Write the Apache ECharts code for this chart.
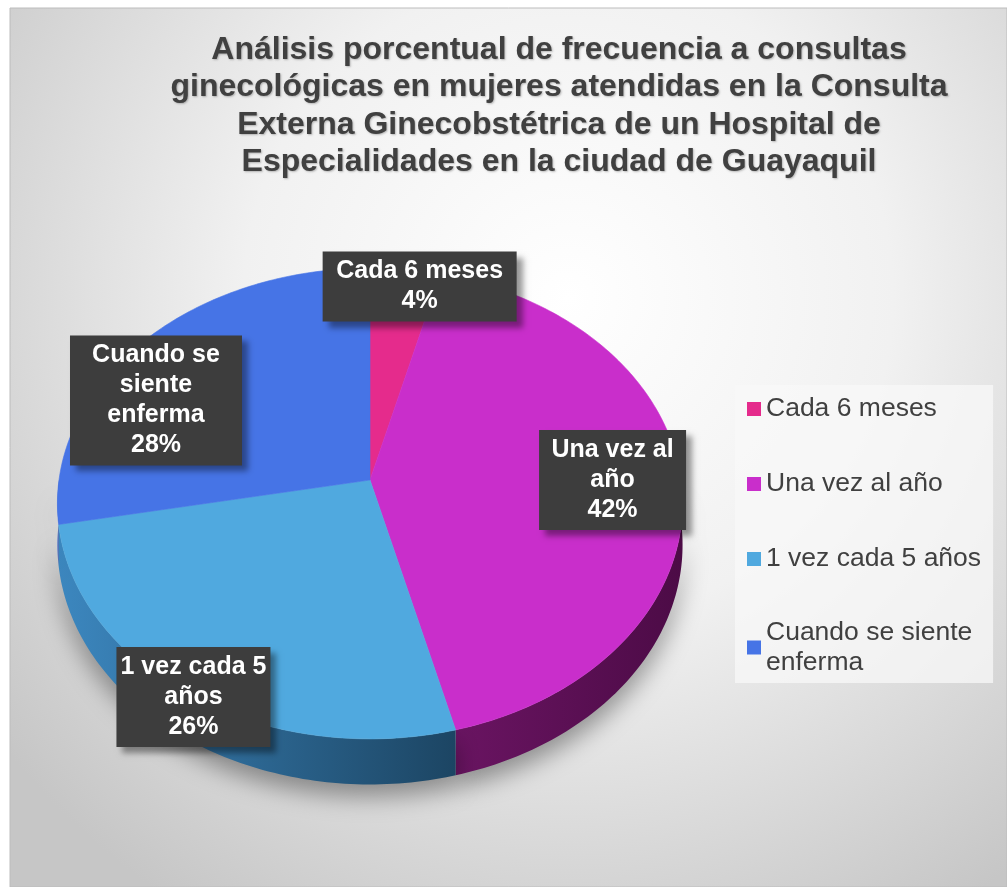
<!DOCTYPE html>
<html lang="es">
<head>
    <meta charset="UTF-8">
    <title>Frecuencia de consultas ginecológicas</title>
    <script type="text/javascript" src="https://cdn.jsdelivr.net/npm/echarts/dist/echarts.min.js"></script>
    <style>
        html, body { margin: 0; padding: 0; background: #ffffff; }
    </style>
</head>
<body>
    <div id="main" style="width: 1007px;height:887px;"></div>

    <script type="text/javascript">
        // datos
        var categories = ['Cada 6 meses', 'Una vez al año', '1 vez cada 5 años', 'Cuando se siente enferma'];
        var percentages = [4, 42, 26, 28];
        // texto de las etiquetas, cortado como en el original
        var labelNames = ['Cada 6 meses', 'Una vez al\naño', '1 vez cada 5\naños', 'Cuando se\nsiente\nenferma'];
        var titleLines = [
            'Análisis porcentual de frecuencia a consultas',
            'ginecológicas en mujeres atendidas en la Consulta',
            'Externa Ginecobstétrica de un Hospital de',
            'Especialidades en la ciudad de Guayaquil'
        ];

        // estilos
        var topColors = ['#e52b8c', '#c92ecb', '#50a9df', '#4674e6'];
        var sideColors = [['#8a1450', '#7a1046'], ['#6a1462', '#4c0b46'], ['#3c87bf', '#1c4563'], ['#3b63c4', '#2c4f9e']];
        var labelBoxWidths = [194, 147, 154, 172];
        var labelShift = [[1.4, 0.92], [0.78, 0.8], [0.97, 1.01], [0.95, 0.57]];
        var FONT = '"Liberation Sans", Arial, sans-serif';

        // geometria del pastel inclinado (elipse con algo de perspectiva)
        var CX = 370, CY = 480, RX = 311, RY = 233, PERSP = 0.1, DEPTH = 41;
        var STEP = Math.PI / 180;

        function pt(theta, down) {
            var s = 1 / (1 + PERSP * Math.cos(theta));
            return [CX + RX * Math.sin(theta) * s,
                    CY - RY * Math.cos(theta) * s + (down ? DEPTH * s : 0)];
        }

        var total = percentages.reduce(function (a, b) { return a + b; }, 0);
        var starts = [];
        var acc = 0;
        percentages.forEach(function (v) { starts.push(acc); acc += v; });

        function makeRenderer(i) {
            return function (params, api) {
                var v = api.value(0);
                var a = starts[i] / total * 2 * Math.PI;
                var b = a + v / total * 2 * Math.PI;
                var children = [];
                var t;

                // lateral visible (frente)
                var lo = Math.max(a, Math.PI / 2), hi = Math.min(b, 1.5 * Math.PI);
                if (hi > lo) {
                    var side = [];
                    for (t = lo; t < hi; t += STEP) side.push(pt(t, false));
                    side.push(pt(hi, false));
                    for (t = hi; t > lo; t -= STEP) side.push(pt(t, true));
                    side.push(pt(lo, true));
                    children.push({
                        type: 'polygon',
                        z2: 1,
                        shape: { points: side },
                        style: {
                            fill: new echarts.graphic.LinearGradient(0, 0, 1, 0, [
                                { offset: 0, color: sideColors[i][0] },
                                { offset: 1, color: sideColors[i][1] }
                            ]),
                            shadowColor: 'rgba(0,0,0,0.38)',
                            shadowBlur: 24,
                            shadowOffsetY: 12
                        }
                    });
                }

                // cara superior
                var top = [[CX, CY]];
                for (t = a; t < b; t += STEP) top.push(pt(t, false));
                top.push(pt(b, false));
                children.push({
                    type: 'polygon',
                    z2: 5,
                    shape: { points: top },
                    style: { fill: api.visual('color'), stroke: api.visual('color'), lineWidth: 0.6 }
                });

                // etiqueta
                var m = (a + b) / 2;
                var p = pt(m, false);
                var pct = Math.round(v / total * 100) + '%';
                children.push({
                    type: 'text',
                    z2: 10,
                    x: CX + (p[0] - CX) * labelShift[i][0],
                    y: CY + (p[1] - CY) * labelShift[i][1],
                    style: {
                        text: labelNames[i] + '\n' + pct,
                        width: labelBoxWidths[i] - 8,
                        overflow: 'none',
                        font: 'bold 25px ' + FONT,
                        lineHeight: 30,
                        align: 'center',
                        verticalAlign: 'middle',
                        fill: '#ffffff',
                        backgroundColor: '#3d3d3d',
                        padding: [5, 4],
                        shadowColor: 'rgba(0,0,0,0.4)',
                        shadowBlur: 6,
                        shadowOffsetX: 6,
                        shadowOffsetY: 6
                    }
                });

                return { type: 'group', children: children };
            };
        }

        var series = categories.map(function (name, i) {
            return {
                name: name,
                type: 'custom',
                coordinateSystem: 'none',
                silent: true,
                itemStyle: { color: topColors[i] },
                renderItem: makeRenderer(i),
                data: [{ name: name, value: percentages[i] }]
            };
        });

        var myChart = echarts.init(document.getElementById('main'));

        var option = {
            animation: false,
            graphic: [{
                type: 'rect',
                z: -10,
                silent: true,
                shape: { x: 10, y: 8, width: 997, height: 879 },
                style: {
                    fill: new echarts.graphic.RadialGradient(0.56, 0.33, 0.82, [
                        { offset: 0, color: '#ffffff' },
                        { offset: 0.45, color: '#f1f1f1' },
                        { offset: 1, color: '#c6c6c6' }
                    ]),
                    stroke: '#bcbcbc',
                    lineWidth: 1
                }
            }],
            title: {
                text: titleLines.join('\n'),
                left: 559,
                top: 31,
                padding: 0,
                textAlign: 'center',
                textStyle: {
                    fontFamily: FONT,
                    fontSize: 32,
                    fontWeight: 'bold',
                    color: '#404040',
                    lineHeight: 37.5,
                    textShadowColor: 'rgba(0,0,0,0.25)',
                    textShadowBlur: 2,
                    textShadowOffsetX: 1,
                    textShadowOffsetY: 1
                }
            },
            legend: {
                orient: 'vertical',
                left: 735,
                top: 385,
                padding: [9, 12, 7, 12],
                itemWidth: 14,
                itemHeight: 14,
                itemGap: 45,
                icon: 'rect',
                selectedMode: false,
                backgroundColor: 'rgba(248,248,248,0.75)',
                textStyle: { fontFamily: FONT, fontSize: 26.5, color: '#404040', lineHeight: 30 },
                formatter: function (name) {
                    return name === 'Cuando se siente enferma' ? 'Cuando se siente\nenferma' : name;
                },
                data: categories.map(function (name, i) {
                    return i === 3 ? { name: name, textStyle: { height: 30 } } : { name: name };
                })
            },
            series: series
        };

        myChart.setOption(option);
    </script>
</body>
</html>
